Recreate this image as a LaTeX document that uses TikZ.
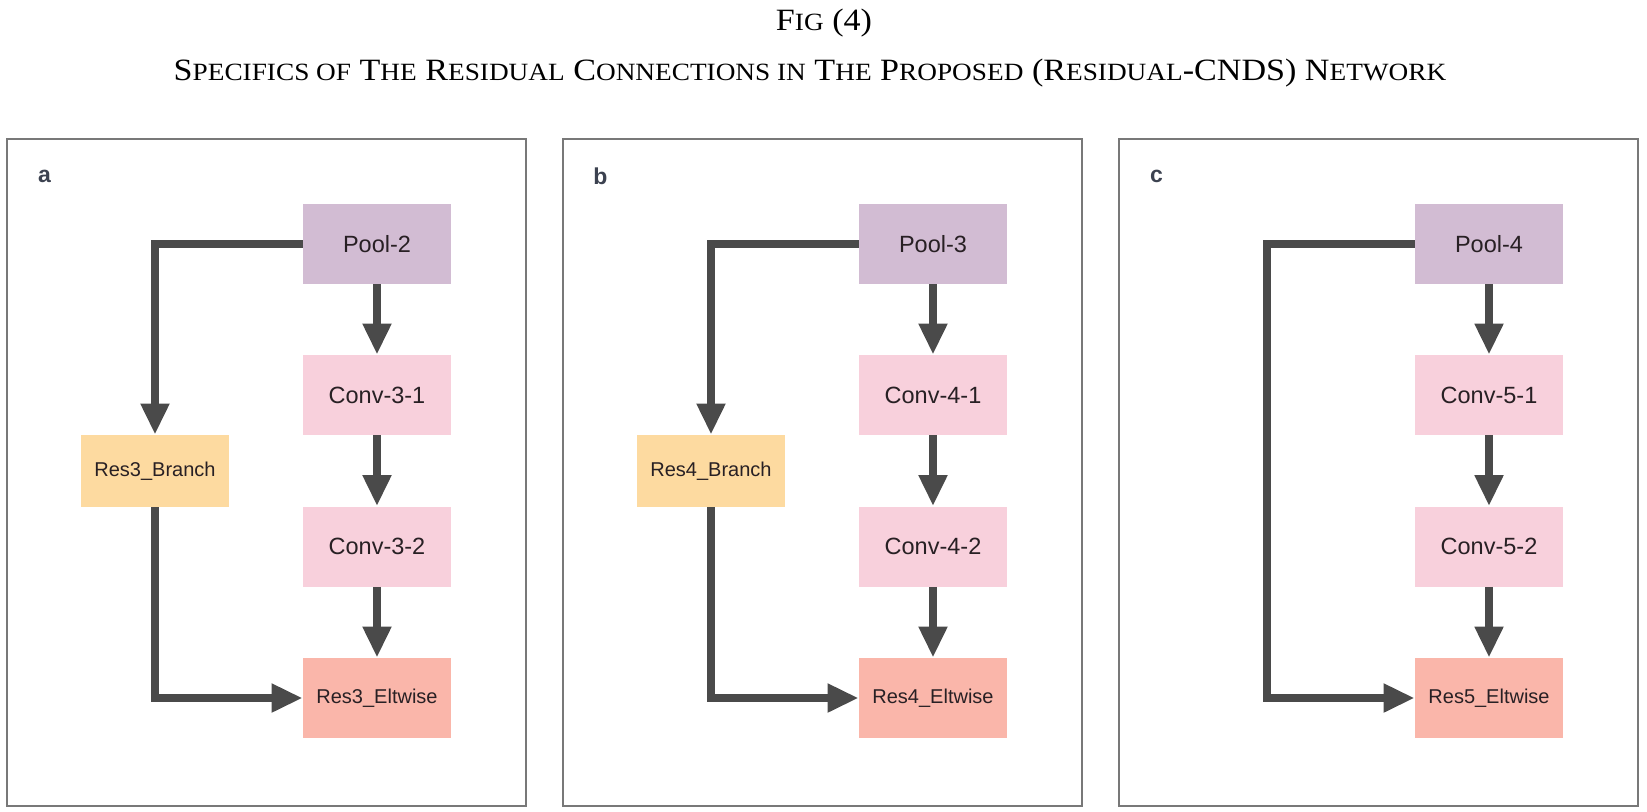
\documentclass[tikz,border=0pt]{standalone}
\usepackage{fontspec}
\setmainfont{Liberation Serif}
\newfontfamily\arialf{Liberation Sans}
\newfontfamily\titlef[FakeStretch=1.1]{Liberation Serif}
\usetikzlibrary{arrows.meta}
\definecolor{poolc}{RGB}{210,188,211}
\definecolor{convc}{RGB}{248,208,220}
\definecolor{eltc}{RGB}{250,182,170}
\definecolor{brc}{RGB}{253,218,160}
\definecolor{arrc}{RGB}{74,74,74}
\definecolor{framec}{RGB}{120,120,120}
\definecolor{labc}{RGB}{60,66,80}
\definecolor{txtc}{RGB}{40,32,36}
\newcommand{\bigsc}{\titlef\fontsize{15.5pt}{18pt}\selectfont}
\newcommand{\smsc}{\titlef\fontsize{12.4pt}{15pt}\selectfont}
\newcommand{\SC}[1]{{\smsc #1}}
\begin{document}
\begin{tikzpicture}[x=0.5pt,y=-0.5pt,
  blk/.style={inner sep=0pt, minimum width=74pt, minimum height=40pt, font=\arialf\fontsize{11.75pt}{14pt}\selectfont, text=txtc},
  resblk/.style={blk, font=\arialf\fontsize{10pt}{12pt}\selectfont},
  pool/.style={blk, fill=poolc},
  conv/.style={blk, fill=convc},
  elt/.style={resblk, fill=eltc},
  branch/.style={resblk, fill=brc, minimum height=36pt},
  flow/.style={draw=arrc, line width=4pt, -{Triangle[width=13.5pt,length=15.5pt]}},
  panel/.style={draw=framec, line width=1pt},
  plabel/.style={font=\arialf\bfseries\fontsize{11.5pt}{13pt}\selectfont, text=labc},
  ttl/.style={inner sep=0pt, anchor=base}
]
\useasboundingbox[fill=white] (0,0) rectangle (1647,811);

% titles
\node[ttl] (title1) at (824,30) {\bigsc F\SC{IG} (4)};
\node[ttl] (title2) at (810,80) {\bigsc S\SC{PECIFICS OF} T\SC{HE} R\SC{ESIDUAL} C\SC{ONNECTIONS IN} T\SC{HE} P\SC{ROPOSED} (R\SC{ESIDUAL}-CNDS) N\SC{ETWORK}};

% frames
\draw[panel] (7,139) rectangle (526,806);
\draw[panel] (563,139) rectangle (1082,806);
\draw[panel] (1119,139) rectangle (1638,806);

% panel labels
\node[plabel] (la) at (44.5,176) {a};
\node[plabel] (lb) at (600.5,176) {b};
\node[plabel] (lc) at (1156.5,176) {c};

% panel a
\node[pool] (pa) at (377,244) {Pool-2};
\node[conv] (c1a) at (377,395) {Conv-3-1};
\node[conv] (c2a) at (377,546.5) {Conv-3-2};
\node[elt] (ea) at (377,698) {Res3\_Eltwise};
\node[branch] (ba) at (155,471) {Res3\_Branch};
\draw[flow] (pa) -- (c1a);
\draw[flow] (c1a) -- (c2a);
\draw[flow] (c2a) -- (ea);
\draw[flow] (pa.west) -| (ba.north);
\draw[flow] (ba.south) |- (ea.west);

% panel b
\node[pool] (pb) at (933,244) {Pool-3};
\node[conv] (c1b) at (933,395) {Conv-4-1};
\node[conv] (c2b) at (933,546.5) {Conv-4-2};
\node[elt] (eb) at (933,698) {Res4\_Eltwise};
\node[branch] (bb) at (711,471) {Res4\_Branch};
\draw[flow] (pb) -- (c1b);
\draw[flow] (c1b) -- (c2b);
\draw[flow] (c2b) -- (eb);
\draw[flow] (pb.west) -| (bb.north);
\draw[flow] (bb.south) |- (eb.west);

% panel c
\node[pool] (pc) at (1489,244) {Pool-4};
\node[conv] (c1c) at (1489,395) {Conv-5-1};
\node[conv] (c2c) at (1489,546.5) {Conv-5-2};
\node[elt] (ec) at (1489,698) {Res5\_Eltwise};
\coordinate (kc) at (1267,244);
\draw[flow] (pc) -- (c1c);
\draw[flow] (c1c) -- (c2c);
\draw[flow] (c2c) -- (ec);
\draw[flow] (pc.west) -- (kc) |- (ec.west);
\end{tikzpicture}
\end{document}
